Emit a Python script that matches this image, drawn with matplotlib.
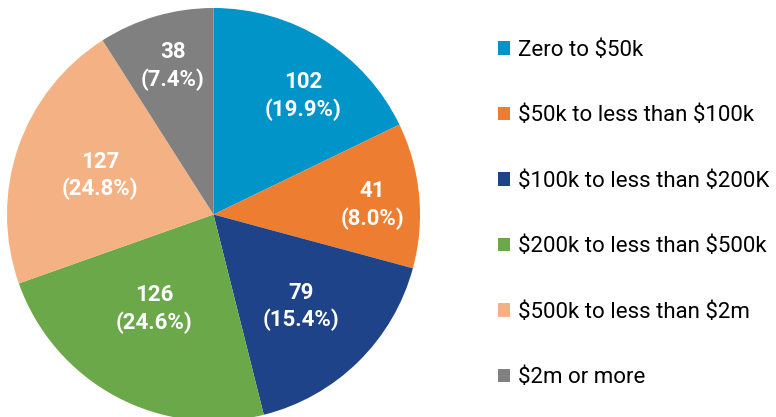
import matplotlib
matplotlib.use("Agg")
import matplotlib.pyplot as plt
from matplotlib.patches import Patch
import numpy as np

plt.rcParams['font.family'] = ['Roboto', 'DejaVu Sans']

# data
categories = ["Zero to $50k", "$50k to less than $100k", "$100k to less than $200K",
              "$200k to less than $500k", "$500k to less than $2m", "$2m or more"]
counts = [102, 41, 79, 126, 127, 38]
# the slices in the picture are not drawn in proportion to the counts,
# so these are the slice sizes (degrees of the circle)
drawn_deg = [64.2, 40.9, 60.8, 84.6, 77.0, 32.5]
colors = ["#0094C8", "#ED7D31", "#1E4388", "#6AA84A", "#F4B183", "#808080"]

# where the slice labels sit (fraction of radius, angle nudge in degrees)
label_r = [0.72, 0.77, 0.615, 0.54, 0.58, 0.745]
label_nudge = [-5, -2, -1, -4, 0, -1]

total = sum(counts)

fig = plt.figure(figsize=(7.76, 4.17), dpi=100)
ax = fig.add_axes([7/776, -4/417, 413/776, 413/417])

wedges, texts = ax.pie(drawn_deg, colors=colors, startangle=90, counterclock=False,
                       radius=1.0)
for i, w in enumerate(wedges):
    ang = np.deg2rad((w.theta1 + w.theta2) / 2 + label_nudge[i])
    pct = counts[i] / total * 100
    ax.text(label_r[i] * np.cos(ang), label_r[i] * np.sin(ang),
            "%d\n(%.1f%%)" % (counts[i], pct),
            ha="center", va="center", color="white", fontsize=16,
            fontweight="bold", linespacing=1.3)
ax.set_xlim(-1.0, 1.0)
ax.set_ylim(-1.0, 1.0)
ax.set_aspect("equal")
ax.axis("off")

handles = [Patch(facecolor=c, edgecolor="none") for c in colors]
labels = [c.replace("$", r"\$") for c in categories]
fig.legend(handles, labels, loc="upper left", bbox_to_anchor=(489/776, 1 - 31/417),
           frameon=False, fontsize=16, labelspacing=2.0, handlelength=0.55,
           handleheight=0.55, handletextpad=0.35, borderaxespad=0)

fig.savefig("out.png", dpi=100)
